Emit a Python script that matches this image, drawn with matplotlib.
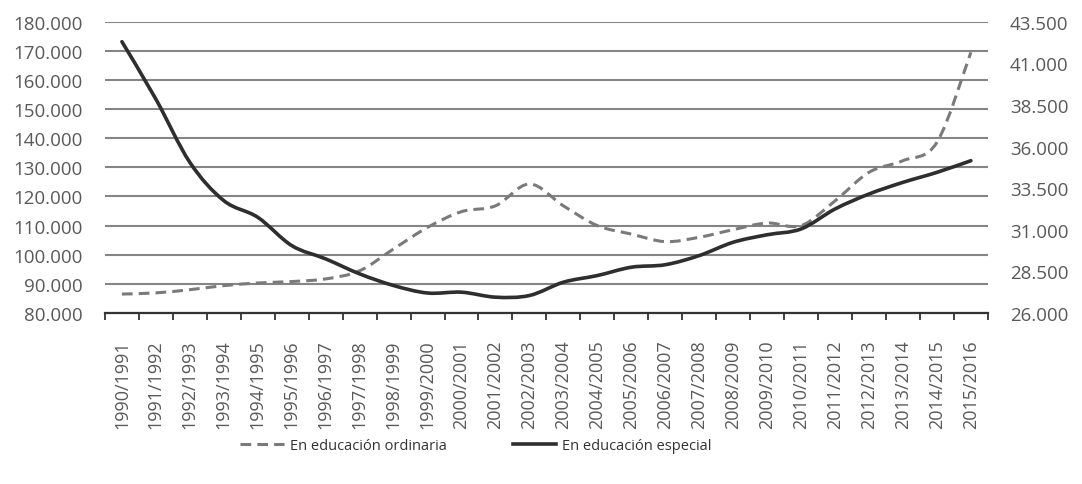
import matplotlib
matplotlib.use('Agg')
import matplotlib.pyplot as plt
import matplotlib.ticker as mticker
from matplotlib.lines import Line2D
from matplotlib.path import Path
from matplotlib.patches import PathPatch

plt.rcParams['font.family'] = ['Open Sans', 'DejaVu Sans']

cursos = ['1990/1991', '1991/1992', '1992/1993', '1993/1994', '1994/1995', '1995/1996',
          '1996/1997', '1997/1998', '1998/1999', '1999/2000', '2000/2001', '2001/2002',
          '2002/2003', '2003/2004', '2004/2005', '2005/2006', '2006/2007', '2007/2008',
          '2008/2009', '2009/2010', '2010/2011', '2011/2012', '2012/2013', '2013/2014',
          '2014/2015', '2015/2016']

# alumnado en educacion ordinaria (eje izquierdo)
ordinaria = [86500, 86900, 88000, 89400, 90300, 90800, 91700, 94500, 102000, 109400,
             114800, 116800, 124300, 116800, 110000, 107100, 104500, 106000, 108600,
             110900, 110000, 118500, 128300, 132300, 138600, 169500]

# alumnado en educacion especial (eje derecho)
especial = [42300, 38850, 35050, 32750, 31750, 30050, 29250, 28350, 27650, 27200,
            27250, 26950, 27050, 27850, 28250, 28750, 28900, 29450, 30250, 30700,
            31050, 32250, 33150, 33850, 34450, 35150]

izq_ticks = list(range(80000, 180001, 10000))
der_ticks = list(range(26000, 43501, 2500))

txt = '#595959'
fmt = mticker.FuncFormatter(lambda v, p: '{:,.0f}'.format(v).replace(',', '.'))


def curva_suave(xs, ys):
    # linea suavizada tipo Excel (Catmull-Rom pasado a Bezier)
    n = len(xs)
    verts = [(xs[0], ys[0])]
    codes = [Path.MOVETO]
    for i in range(n - 1):
        x0, y0 = (xs[i - 1], ys[i - 1]) if i > 0 else (xs[i], ys[i])
        x1, y1 = xs[i], ys[i]
        x2, y2 = xs[i + 1], ys[i + 1]
        x3, y3 = (xs[i + 2], ys[i + 2]) if i + 2 < n else (x2, y2)
        verts += [(x1 + (x2 - x0) / 6, y1 + (y2 - y0) / 6),
                  (x2 - (x3 - x1) / 6, y2 - (y3 - y1) / 6),
                  (x2, y2)]
        codes += [Path.CURVE4] * 3
    return Path(verts, codes)


fig = plt.figure(figsize=(10.82, 4.85), dpi=100)
ax = fig.add_axes([0.097, 0.3526, 0.816, 0.6005])
ax2 = ax.twinx()

x = list(range(len(cursos)))

ax.set_ylim(80000, 180000)
ax.set_yticks(izq_ticks)
ax.yaxis.set_major_formatter(fmt)
ax.grid(axis='y', color='#858585', linewidth=1.5)
ax.set_axisbelow(True)

ax2.set_ylim(26000, 43500)
ax2.set_yticks(der_ticks)
ax2.yaxis.set_major_formatter(fmt)

ax.add_patch(PathPatch(curva_suave(x, ordinaria), fill=False, edgecolor='#7a7a7a',
                       linewidth=2.2, linestyle=(0, (3.5, 2)), zorder=3))
ax2.add_patch(PathPatch(curva_suave(x, especial), fill=False, edgecolor='#2e2e2e',
                        linewidth=2.6, capstyle='round', zorder=4))

ax.set_xlim(-0.5, len(cursos) - 0.5)
ax.set_xticks([i - 0.5 for i in range(len(cursos) + 1)])
ax.set_xticklabels([])
ax.set_xticks(x, minor=True)
ax.set_xticklabels(cursos, minor=True, rotation=90, fontsize=13, color=txt)
ax.tick_params(axis='x', which='major', length=5, width=1.3, color='#333333', direction='out')
ax.tick_params(axis='x', which='minor', length=0, pad=19)
ax.tick_params(axis='y', length=0, pad=16, labelsize=13.5, labelcolor=txt)
ax2.tick_params(axis='y', length=0, pad=16, labelsize=13.5, labelcolor=txt)

for a in (ax, ax2):
    for s in ['top', 'left', 'right']:
        a.spines[s].set_visible(False)
ax.spines['bottom'].set_color('#333333')
ax.spines['bottom'].set_linewidth(1.6)
ax2.spines['bottom'].set_visible(False)

h1 = Line2D([], [], color='#7a7a7a', linewidth=2.2, linestyle=(0, (3.5, 2)))
h2 = Line2D([], [], color='#2e2e2e', linewidth=2.6)
fig.legend([h1, h2], ['En educación ordinaria', 'En educación especial'],
           loc='center', bbox_to_anchor=(0.44, 1 - 447 / 485), ncol=2, frameon=False,
           fontsize=10.5, handlelength=3.0, handletextpad=0.4, columnspacing=4.5,
           labelcolor='#333333')

fig.savefig('out.png', dpi=100)
